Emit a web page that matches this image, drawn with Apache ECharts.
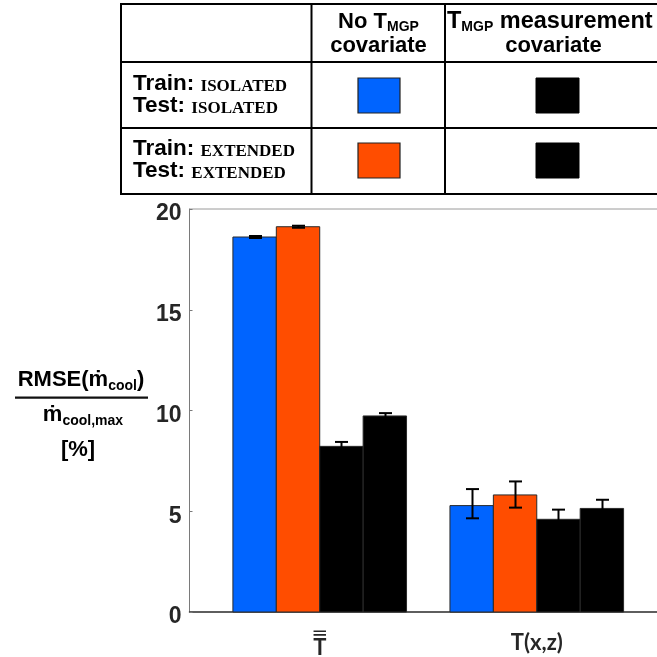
<!DOCTYPE html>
<html><head><meta charset="utf-8">
<script src="https://cdn.jsdelivr.net/npm/echarts@6/dist/echarts.min.js"></script>
<style>html,body{margin:0;padding:0;background:#fff}#c{width:657px;height:657px}</style>
</head><body><div id="c"></div>
<script>
// ---- data ----
const categories = ['T\u033F', 'T(x,z)'];
const categoryPos = [1, 2];
const yTicks = [0, 5, 10, 15, 20];

const isoNoCov = [18.61, 5.28];
const extNoCov = [19.12, 5.81];
const isoMeas = [8.22, 4.60];
const extMeas = [9.73, 5.14];

const isoNoCovErrLow = [0.05, 0.63];
const isoNoCovErrHigh = [0.05, 0.82];
const extNoCovErrLow = [0.05, 0.63];
const extNoCovErrHigh = [0.05, 0.67];
const isoMeasErrLow = [0.22, 0.48];
const isoMeasErrHigh = [0.22, 0.48];
const extMeasErrLow = [0.14, 0.43];
const extMeasErrHigh = [0.14, 0.43];

const tableRows = [['Train: ', 'ISOLATED', 'Test: ', 'ISOLATED'], ['Train: ', 'EXTENDED', 'Test: ', 'EXTENDED']];

// ---- styling / layout ----
const BLUE = '#0064ff', ORANGE = '#ff4d00', BLACK = '#000000';
const BAR_W = 0.2;
const SANS = '"Liberation Sans", Arial, sans-serif';
const SERIF = '"Liberation Serif", "Times New Roman", serif';
const XFONT = 'Lato, "Open Sans", sans-serif';

const groups = [
  { name: 'iso-nocov', vals: isoNoCov, lo: isoNoCovErrLow, hi: isoNoCovErrHigh, color: BLUE, off: -0.3 },
  { name: 'ext-nocov', vals: extNoCov, lo: extNoCovErrLow, hi: extNoCovErrHigh, color: ORANGE, off: -0.1 },
  { name: 'iso-meas', vals: isoMeas, lo: isoMeasErrLow, hi: isoMeasErrHigh, color: BLACK, off: 0.1 },
  { name: 'ext-meas', vals: extMeas, lo: extMeasErrLow, hi: extMeasErrHigh, color: BLACK, off: 0.3 }
];

function makeSeries(g) {
  return {
    type: 'custom',
    name: g.name,
    data: categoryPos.map((x, i) => [x, g.vals[i], g.lo[i], g.hi[i]]),
    encode: { x: 0, y: 1 },
    renderItem: function (params, api) {
      const x = api.value(0) + g.off, v = api.value(1);
      const p0 = api.coord([x - BAR_W / 2, v]);
      const p1 = api.coord([x + BAR_W / 2, 0]);
      const pt = api.coord([x, v + api.value(3)]);
      const pb = api.coord([x, v - api.value(2)]);
      const cx = Math.round(pt[0]) + 0.5;
      const cap = 6.5;
      return {
        type: 'group',
        children: [
          { type: 'rect', shape: { x: p0[0], y: p0[1], width: p1[0] - p0[0], height: p1[1] - p0[1] },
            style: { fill: g.color, stroke: '#2a2a2a', lineWidth: 1 } },
          { type: 'line', shape: { x1: cx, y1: pt[1], x2: cx, y2: pb[1] }, style: { stroke: '#000', lineWidth: 2 } },
          { type: 'line', shape: { x1: cx - cap, y1: pt[1], x2: cx + cap, y2: pt[1] }, style: { stroke: '#000', lineWidth: 2 } },
          { type: 'line', shape: { x1: cx - cap, y1: pb[1], x2: cx + cap, y2: pb[1] }, style: { stroke: '#000', lineWidth: 2 } }
        ]
      };
    }
  };
}

function txt(text, x, y, align, rich) {
  return {
    type: 'text', x: x, y: y,
    style: {
      text: text, rich: rich,
      align: align, textAlign: align,
      verticalAlign: 'middle', textVerticalAlign: 'middle',
      fill: '#000'
    }
  };
}

const hdrRich = {
  a: { fontFamily: SANS, fontWeight: 'bold', fontSize: 22, lineHeight: 24, color: '#000' },
  w: { fontFamily: SANS, fontWeight: 'bold', fontSize: 23.5, lineHeight: 24, color: '#000' },
  s: { fontFamily: SANS, fontWeight: 'bold', fontSize: 14, lineHeight: 15, verticalAlign: 'bottom', color: '#000' }
};
const rowRich = {
  a: { fontFamily: SANS, fontWeight: 'bold', fontSize: 22.5, lineHeight: 22, color: '#000' },
  b: { fontFamily: SERIF, fontWeight: 'bold', fontSize: 17, lineHeight: 18, verticalAlign: 'bottom', color: '#000' }
};
const yRich = {
  a: { fontFamily: SANS, fontWeight: 'bold', fontSize: 22, lineHeight: 26, color: '#262626' },
  s: { fontFamily: SANS, fontWeight: 'bold', fontSize: 14, lineHeight: 16, verticalAlign: 'bottom', color: '#262626' }
};

const L = { stroke: '#000', lineWidth: 2 };
const graphics = [
  // table frame
  { type: 'rect', shape: { x: 121, y: 4, width: 560, height: 190 }, style: { fill: 'none', stroke: '#000', lineWidth: 2 } },
  { type: 'line', shape: { x1: 121, y1: 62, x2: 680, y2: 62 }, style: L },
  { type: 'line', shape: { x1: 121, y1: 128, x2: 680, y2: 128 }, style: L },
  { type: 'line', shape: { x1: 311.5, y1: 4, x2: 311.5, y2: 194 }, style: L },
  { type: 'line', shape: { x1: 445, y1: 4, x2: 445, y2: 194 }, style: L },
  // headers
  txt('{a|No T}{s|MGP}\n{a|covariate}', 378.5, 34, 'center', hdrRich),
  txt('{w|T}{s|MGP}{w| measurement}', 447, 22, 'left', hdrRich),
  txt('{a|covariate}', 553.5, 46, 'center', hdrRich),
  // row labels
  txt('{a|' + tableRows[0][0] + '}{b|' + tableRows[0][1] + '}\n{a|' + tableRows[0][2] + '}{b|' + tableRows[0][3] + '}', 133, 95, 'left', rowRich),
  txt('{a|' + tableRows[1][0] + '}{b|' + tableRows[1][1] + '}\n{a|' + tableRows[1][2] + '}{b|' + tableRows[1][3] + '}', 133, 160, 'left', rowRich),
  // swatches
  { type: 'rect', shape: { x: 358, y: 78, width: 42, height: 35 }, style: { fill: BLUE, stroke: '#222', lineWidth: 1.2 } },
  { type: 'rect', shape: { x: 536, y: 78, width: 43, height: 35 }, style: { fill: BLACK, stroke: '#000', lineWidth: 1 } },
  { type: 'rect', shape: { x: 358, y: 143, width: 42, height: 35 }, style: { fill: ORANGE, stroke: '#222', lineWidth: 1.2 } },
  { type: 'rect', shape: { x: 536, y: 143, width: 43, height: 35 }, style: { fill: BLACK, stroke: '#000', lineWidth: 1 } },
  // y label (fraction)
  txt('{a|RMSE(\u1E41}{s|cool}{a|)}', 81, 380, 'center', yRich),
  { type: 'rect', shape: { x: 15, y: 396.5, width: 133, height: 2.2 }, style: { fill: '#111' } },
  txt('{a|\u1E41}{s|cool,max}', 83, 415, 'center', yRich),
  txt('{a|[%]}', 78, 450, 'center', yRich)
];

function xLabel(v) {
  const c = categories[categoryPos.indexOf(v)];
  if (c === undefined) return '';
  if (c.indexOf('\u033F') >= 0) {
    // base letter with a double overline drawn above it
    return '{ov|\u2550}\n{t2|' + c.replace('\u033F', '') + '}';
  }
  return '{t|' + c + '}';
}

const chart = echarts.init(document.getElementById('c'), null, { renderer: 'canvas' });
chart.setOption({
  animation: false,
  backgroundColor: '#fff',
  grid: {
    left: 189.5, top: 209, bottom: 45, right: -10,
    outerBoundsMode: 'none', containLabel: false,
    show: true, borderColor: '#9a9a9a', borderWidth: 1, backgroundColor: 'transparent'
  },
  xAxis: {
    type: 'value', min: 0.4, max: 2.6,
    splitLine: { show: false },
    axisTick: { show: false },
    axisLine: { show: true, lineStyle: { color: '#3a3a3a', width: 1.5 } },
    axisLabel: {
      customValues: categoryPos,
      formatter: xLabel,
      margin: 18,
      rich: {
        ov: { fontFamily: '"DejaVu Sans", sans-serif', fontWeight: 'bold', fontSize: 20, lineHeight: 9, color: '#262626' },
        t: { fontFamily: XFONT, fontWeight: 'bold', fontSize: 22, lineHeight: 26, color: '#262626' },
        t2: { fontFamily: XFONT, fontWeight: 'bold', fontSize: 22, lineHeight: 18, color: '#262626' }
      }
    }
  },
  yAxis: {
    type: 'value', min: yTicks[0], max: yTicks[yTicks.length - 1], interval: 5,
    splitLine: { show: false },
    axisLine: { show: true, lineStyle: { color: '#7a7a7a', width: 1 } },
    axisTick: { show: true, inside: true, length: 3, lineStyle: { color: '#7a7a7a' } },
    axisLabel: {
      margin: 8,
      formatter: v => '{v|' + v + '}',
      rich: { v: { fontFamily: SANS, fontWeight: 'bold', fontSize: 23, color: '#262626', padding: [10, 0, 0, 0] } }
    }
  },
  series: groups.map(makeSeries),
  graphic: { elements: graphics }
});
</script>
</body></html>
